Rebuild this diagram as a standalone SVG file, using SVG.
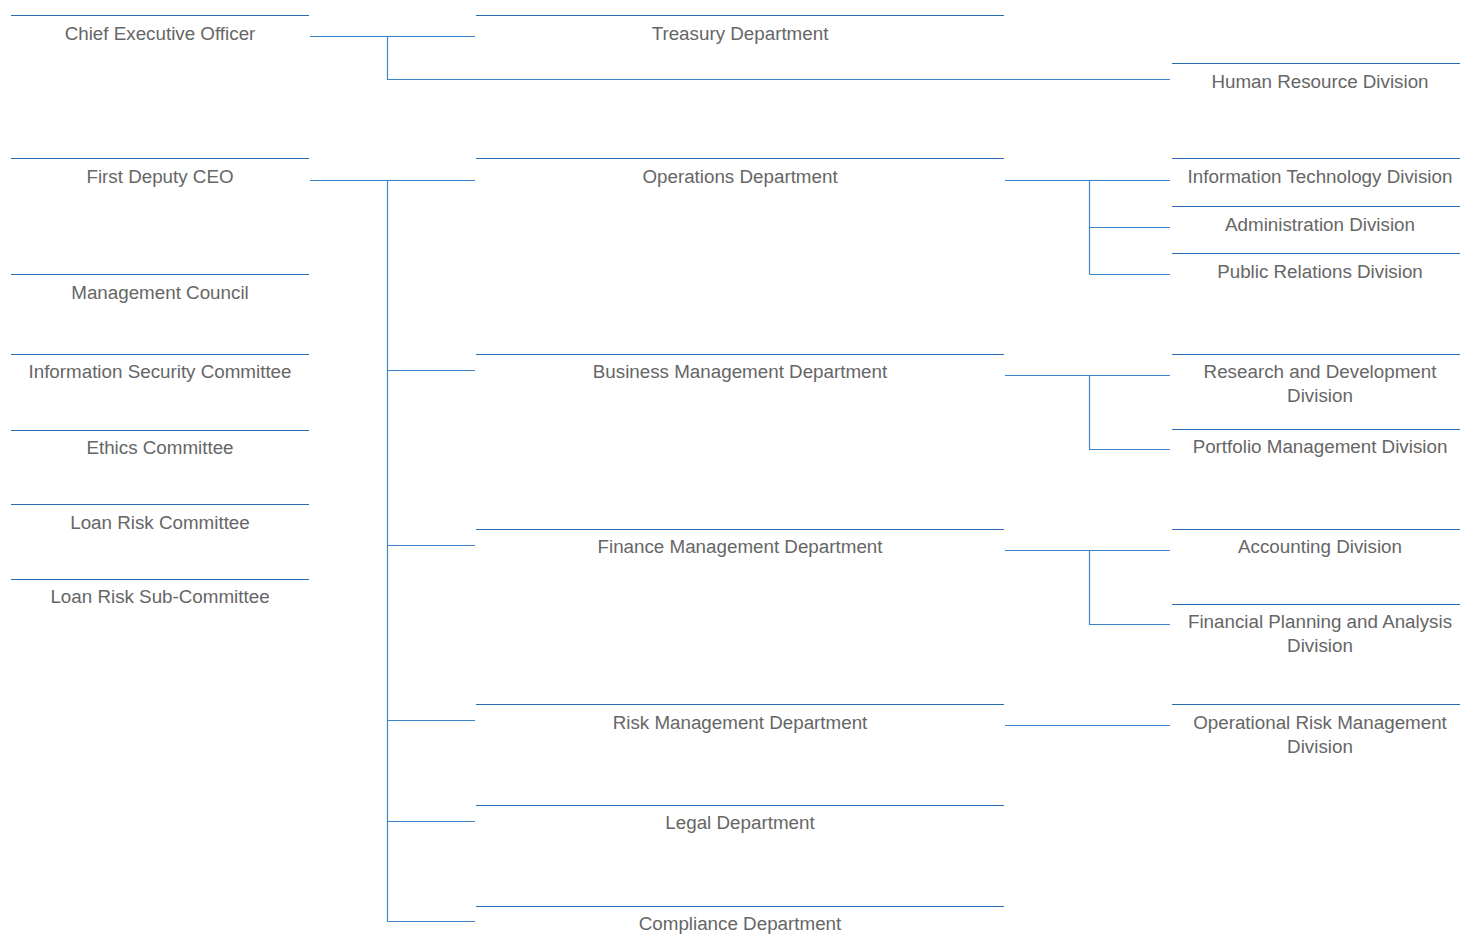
<svg xmlns="http://www.w3.org/2000/svg" width="1460" height="934" viewBox="0 0 1460 934">
<style>
.n line{stroke:#2a6db0;stroke-width:1.2}
.n text{font-family:"Liberation Sans",Arial,sans-serif;font-size:18.8px;fill:#666666;text-anchor:middle}
#connectors path{fill:none;stroke:#3d85c6;stroke-width:1.2}
</style>
<rect width="1460" height="934" fill="#ffffff"/>
<g id="connectors">
<path d="M310 36.5H475M387.5 36.5V79.5H1170"/>
<path d="M310 180.5H475M387.5 180.5V921.5M387.5 370.5H475M387.5 545.5H475M387.5 720.5H475M387.5 821.5H475M387.5 921.5H475"/>
<path d="M1005 180.5H1170M1089.5 180.5V274.5M1089.5 227.5H1170M1089.5 274.5H1170"/>
<path d="M1005 375.5H1170M1089.5 375.5V449.5H1170"/>
<path d="M1005 550.5H1170M1089.5 550.5V624.5H1170"/>
<path d="M1005 725.5H1170"/>
</g>
<g id="ceo" class="n"><line x1="11" y1="15.5" x2="309" y2="15.5"/><text x="160" y="40">Chief Executive Officer</text></g>
<g id="treasury" class="n"><line x1="476" y1="15.5" x2="1004" y2="15.5"/><text x="740" y="40">Treasury Department</text></g>
<g id="hr" class="n"><line x1="1172" y1="63.5" x2="1460" y2="63.5"/><text x="1320" y="88">Human Resource Division</text></g>
<g id="fdceo" class="n"><line x1="11" y1="158.5" x2="309" y2="158.5"/><text x="160" y="183">First Deputy CEO</text></g>
<g id="mgmt" class="n"><line x1="11" y1="274.5" x2="309" y2="274.5"/><text x="160" y="299">Management Council</text></g>
<g id="infosec" class="n"><line x1="11" y1="354.5" x2="309" y2="354.5"/><text x="160" y="378">Information Security Committee</text></g>
<g id="ethics" class="n"><line x1="11" y1="430.5" x2="309" y2="430.5"/><text x="160" y="454">Ethics Committee</text></g>
<g id="loanrisk" class="n"><line x1="11" y1="504.5" x2="309" y2="504.5"/><text x="160" y="529">Loan Risk Committee</text></g>
<g id="loansub" class="n"><line x1="11" y1="579.5" x2="309" y2="579.5"/><text x="160" y="603">Loan Risk Sub-Committee</text></g>
<g id="ops" class="n"><line x1="476" y1="158.5" x2="1004" y2="158.5"/><text x="740" y="183">Operations Department</text></g>
<g id="bmd" class="n"><line x1="476" y1="354.5" x2="1004" y2="354.5"/><text x="740" y="378">Business Management Department</text></g>
<g id="fmd" class="n"><line x1="476" y1="529.5" x2="1004" y2="529.5"/><text x="740" y="553">Finance Management Department</text></g>
<g id="rmd" class="n"><line x1="476" y1="704.5" x2="1004" y2="704.5"/><text x="740" y="729">Risk Management Department</text></g>
<g id="legal" class="n"><line x1="476" y1="805.5" x2="1004" y2="805.5"/><text x="740" y="829">Legal Department</text></g>
<g id="compliance" class="n"><line x1="476" y1="906.5" x2="1004" y2="906.5"/><text x="740" y="930">Compliance Department</text></g>
<g id="it" class="n"><line x1="1172" y1="158.5" x2="1460" y2="158.5"/><text x="1320" y="183">Information Technology Division</text></g>
<g id="admin" class="n"><line x1="1172" y1="206.5" x2="1460" y2="206.5"/><text x="1320" y="231">Administration Division</text></g>
<g id="pr" class="n"><line x1="1172" y1="253.5" x2="1460" y2="253.5"/><text x="1320" y="278">Public Relations Division</text></g>
<g id="rnd" class="n"><line x1="1172" y1="354.5" x2="1460" y2="354.5"/><text x="1320" y="378">Research and Development</text><text x="1320" y="402">Division</text></g>
<g id="portfolio" class="n"><line x1="1172" y1="429.5" x2="1460" y2="429.5"/><text x="1320" y="453">Portfolio Management Division</text></g>
<g id="accounting" class="n"><line x1="1172" y1="529.5" x2="1460" y2="529.5"/><text x="1320" y="553">Accounting Division</text></g>
<g id="fpa" class="n"><line x1="1172" y1="604.5" x2="1460" y2="604.5"/><text x="1320" y="628">Financial Planning and Analysis</text><text x="1320" y="652">Division</text></g>
<g id="oprisk" class="n"><line x1="1172" y1="704.5" x2="1460" y2="704.5"/><text x="1320" y="729">Operational Risk Management</text><text x="1320" y="753">Division</text></g>
</svg>
